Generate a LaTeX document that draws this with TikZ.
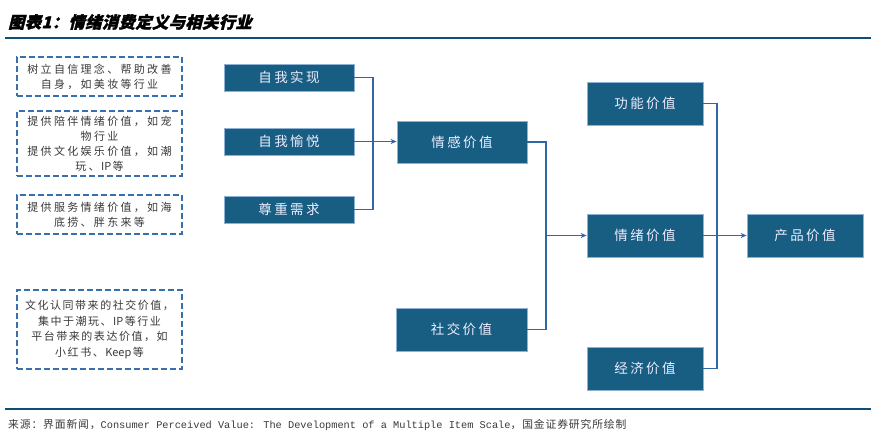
\documentclass[tikz,border=0pt]{standalone}
\usepackage{fontspec}
\setmainfont{Noto Sans CJK SC}
\newfontfamily\cjk{Noto Sans CJK SC}
\newfontfamily\cjknote[LetterSpace=21]{Noto Sans CJK SC}
\newfontfamily\cjknoteb[LetterSpace=14]{Noto Sans CJK SC}
\newfontfamily\cjksrc[LetterSpace=8]{Noto Sans CJK SC}
\newfontfamily\srcmono{Liberation Mono}
\newfontfamily\cjkbox[LetterSpace=18]{Noto Sans CJK SC}
\newfontfamily\cjktitle[FakeSlant=0.25,FakeBold=2,LetterSpace=3]{Noto Sans CJK SC}
\newcommand{\lat}[1]{\hspace{1.5pt}{\cjk #1}\hspace{1.5pt}}
\usetikzlibrary{arrows.meta}
\definecolor{boxfill}{HTML}{185E82}
\definecolor{boxedge}{HTML}{8DB2D6}
\definecolor{linkc}{HTML}{2F67A6}
\definecolor{dashc}{HTML}{3A6FAE}
\definecolor{rulec}{HTML}{0E4F78}
\definecolor{txtc}{HTML}{3A3A3A}
\tikzset{
  valbox/.style={draw=boxedge,line width=0.8pt,fill=boxfill,text=white!93!blue,
    inner sep=0pt,font=\cjkbox\fontsize{13.5}{15}\selectfont},
  notebox/.style={draw=dashc,line width=1.3pt,dash pattern=on 6pt off 3pt,
    inner sep=0pt,align=center,text=txtc,font=\cjknote\fontsize{11}{15}\selectfont},
  link/.style={draw=linkc,line width=1.1pt},
  arr/.style={link,-{Stealth[length=6pt,width=5pt]}}
}
\begin{document}
\begin{tikzpicture}[x=1pt,y=-1pt]
\useasboundingbox (0,0) rectangle (895,435);
\fill[white] (0,0) rectangle (895,435);
% title
\node[anchor=west,inner sep=0pt,font=\cjktitle\bfseries\fontsize{16.2}{18}\selectfont] (title) at (8,22) {图表1：情绪消费定义与相关行业};
\draw[rulec,line width=1.3pt] (5,38) -- (871,38);
\draw[rulec,line width=1.3pt] (5,409) -- (871,409);
\node[anchor=west,inner sep=0pt,text=txtc,font=\cjksrc\fontsize{10.8}{12}\selectfont] (src) at (8,425) {来源：界面新闻，{\srcmono\fontsize{10.3}{12}\selectfont Consumer Perceived Value: The Development of a Multiple Item Scale}，国金证券研究所绘制};
% note boxes
\node[notebox,minimum width=165pt,minimum height=39pt] (d1) at (99.5,76.5) {树立自信理念、帮助改善\\自身，如美妆等行业};
\node[notebox,minimum width=165pt,minimum height=65pt] (d2) at (99.5,143.5) {提供陪伴情绪价值，如宠\\物行业\\提供文化娱乐价值，如潮\\玩、\lat{IP}等};
\node[notebox,minimum width=165pt,minimum height=39pt] (d3) at (99.5,214.5) {提供服务情绪价值，如海\\底捞、胖东来等};
\node[notebox,minimum width=165pt,minimum height=79pt,font=\cjknoteb\fontsize{11}{15.5}\selectfont] (d4) at (99.5,329.5) {文化认同带来的社交价值，\\集中于潮玩、\lat{IP}等行业\\平台带来的表达价值，如\\小红书、\lat{Keep}等};
% value boxes
\node[valbox,minimum width=130pt,minimum height=27pt] (a1) at (289,77.5) {自我实现};
\node[valbox,minimum width=130pt,minimum height=27pt] (a2) at (289,141.5) {自我愉悦};
\node[valbox,minimum width=130pt,minimum height=27pt] (a3) at (289,209.5) {尊重需求};
\node[valbox,minimum width=130pt,minimum height=42pt] (qg) at (462,142) {情感价值};
\node[valbox,minimum width=131pt,minimum height=43pt] (sj) at (461.5,329.5) {社交价值};
\node[valbox,minimum width=116pt,minimum height=43pt] (gn) at (645,103.5) {功能价值};
\node[valbox,minimum width=116pt,minimum height=43pt] (qx) at (645,235.5) {情绪价值};
\node[valbox,minimum width=116pt,minimum height=43pt] (jj) at (645,368.5) {经济价值};
\node[valbox,minimum width=116pt,minimum height=43pt] (cp) at (805,235.5) {产品价值};
% junctions
\coordinate (j1) at (373,141.5);
\coordinate (j2) at (546,235.5);
\coordinate (j3) at (717,235.5);
% connectors
\draw[link] (a1.east) -| (j1);
\draw[link] (a3.east) -| (j1);
\draw[arr] (a2.east) -- (a2.east -| qg.west);
\draw[link] (qg.east) -| (j2);
\draw[link] (sj.east) -| (j2);
\draw[arr] (j2) -- (qx.west);
\draw[link] (gn.east) -| (j3);
\draw[link] (jj.east) -| (j3);
\draw[arr] (qx.east) -- (cp.west);
\end{tikzpicture}
\end{document}
